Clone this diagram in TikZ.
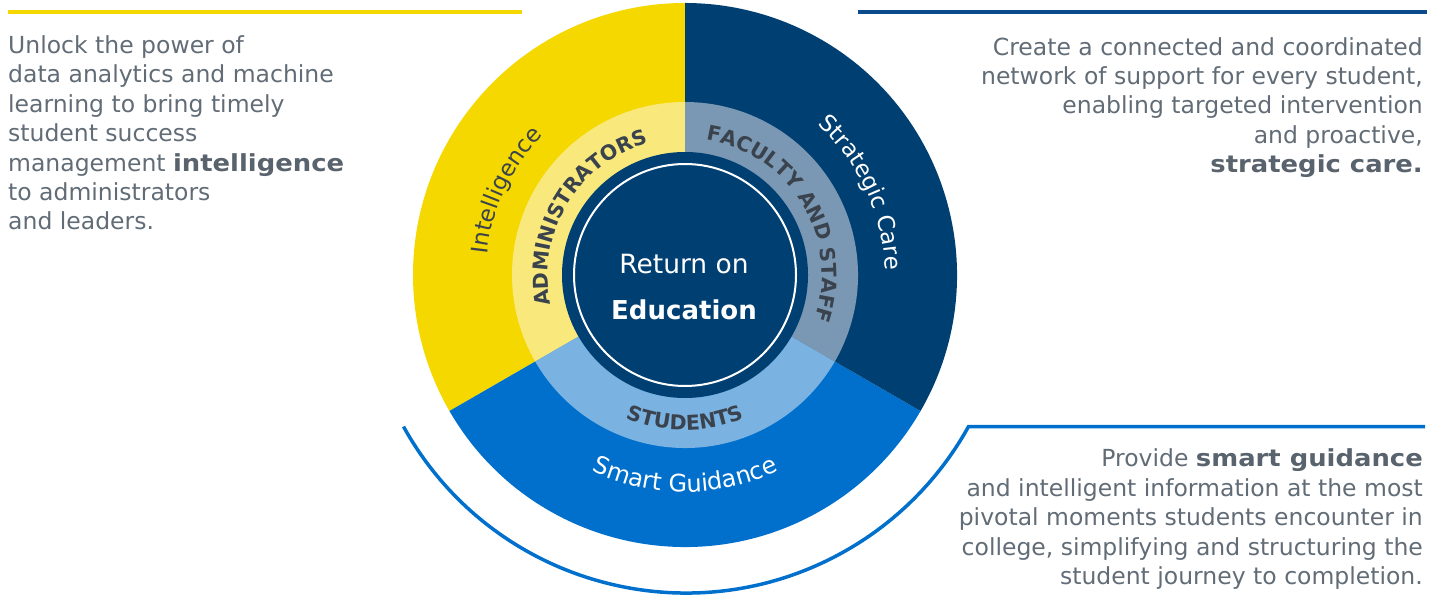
\documentclass[tikz,border=0pt]{standalone}
\usepackage{fontspec}
\setmainfont{DejaVu Sans}
\usetikzlibrary{decorations.text,calc}
\definecolor{cyellow}{HTML}{F4D800}
\definecolor{cdark}{HTML}{003F72}
\definecolor{cmid}{HTML}{0070CC}
\definecolor{lyellow}{HTML}{F9E97C}
\definecolor{lgrey}{HTML}{7A98B3}
\definecolor{lblue}{HTML}{7AB2E2}
\definecolor{linedark}{HTML}{0B4A8B}
\definecolor{bodytext}{HTML}{616C76}
\definecolor{boldtext}{HTML}{59636D}
\definecolor{ringtext}{HTML}{3A434D}
\newcommand\wbold[1]{{\bfseries\addfontfeature{FakeStretch=1.1}\color{boldtext}#1}}
\begin{document}
\begin{tikzpicture}[x=1pt,y=1pt,
  bodytxt/.style={inner sep=0pt, text=bodytext, font=\fontsize{23.5}{29.4}\selectfont},
  ringlabel/.style={decorate, decoration={text along path, text align=center, text color=ringtext,
      text={|\fontsize{20.5}{24}\selectfont\bfseries|#1}}},
  outerlabel/.style n args={3}{decorate, decoration={text along path, text align=center, text color=#1,
      text={|\fontsize{#2}{26}\selectfont|#3}}}]
\useasboundingbox (0,0) rectangle (1443,597);
\coordinate (C) at (685,322);
\coordinate (G) at (686,327);
% outer sectors
\fill[cyellow] (C) -- ++(90:272) arc[start angle=90,end angle=210,radius=272] -- cycle;
\fill[cmid] (C) -- ++(210:272) arc[start angle=210,end angle=330,radius=272] -- cycle;
\fill[cdark] (C) -- ++(-30:272) arc[start angle=-30,end angle=90,radius=272] -- cycle;
% ring
\fill[lyellow] (C) -- ++(90:173) arc[start angle=90,end angle=210,radius=173] -- cycle;
\fill[lblue] (C) -- ++(210:173) arc[start angle=210,end angle=330,radius=173] -- cycle;
\fill[lgrey] (C) -- ++(-30:173) arc[start angle=-30,end angle=90,radius=173] -- cycle;
% inner
\fill[cdark] (C) circle[radius=123];
\draw[white, line width=2] (C) circle[radius=111];
\node[white, inner sep=0pt, anchor=base, font=\fontsize{26.5}{30}\selectfont] (ret) at (684,323) {Return on};
\node[white, inner sep=0pt, anchor=base, font=\fontsize{26}{30}\selectfont\bfseries] (edu) at (684,277) {Education};
% ring labels
\path[ringlabel=ADMINISTRATORS] ($(C)+(209:137)$) arc[start angle=209,end angle=89,radius=137];
\path[ringlabel=FACULTY AND STAFF] ($(C)+(91:137)$) arc[start angle=91,end angle=-29,radius=137];
\path[ringlabel=STUDENTS] ($(C)+(220:155)$) arc[start angle=220,end angle=320,radius=155];
% outer labels
\path[outerlabel={ringtext}{23}{Intelligence}] ($(C)+(204.7:199)$) arc[start angle=204.7,end angle=104.7,radius=199];
\path[outerlabel={white}{23}{Strategic Care}] ($(C)+(80:200)$) arc[start angle=80,end angle=-30,radius=200];
\path[outerlabel={white}{24}{Smart Guidance}] ($(C)+(215:217)$) arc[start angle=215,end angle=325,radius=217];
% lines
\coordinate (yl1) at (8,584.7);
\coordinate (yl2) at (522,584.7);
\draw[cyellow, line width=4] (yl1) -- (yl2);
\coordinate (dl1) at (858,584.7);
\coordinate (dl2) at (1427,584.7);
\draw[linedark, line width=4] (dl1) -- (dl2);
\coordinate (ga) at ($(G)+(209:323)$);
\coordinate (gb) at ($(G)+(331:323)$);
\coordinate (gc) at (1425,170.4);
\draw[cmid, line width=3.5] (ga) arc[start angle=209,end angle=331,radius=323] -- (gc);
% body texts
\node[bodytxt, anchor=north west, align=left] (lt) at (8,564.3) {\strut Unlock the power of\\ data analytics and machine\\ learning to bring timely\\ student success\\ management \wbold{intelligence}\\ to administrators\\ and leaders.};
\node[bodytxt, anchor=north east, align=right] (rt) at (1423,562.6) {\strut Create a connected and coordinated\\ network of support for every student,\\ enabling targeted intervention\\ and proactive,\\ \wbold{strategic care.}};
\node[bodytxt, anchor=north east, align=right] (rb) at (1423,150.9) {\strut Provide \wbold{smart guidance}\\ and intelligent information at the most\\ pivotal moments students encounter in\\ college, simplifying and structuring the\\ student journey to completion.};
\end{tikzpicture}
\end{document}
